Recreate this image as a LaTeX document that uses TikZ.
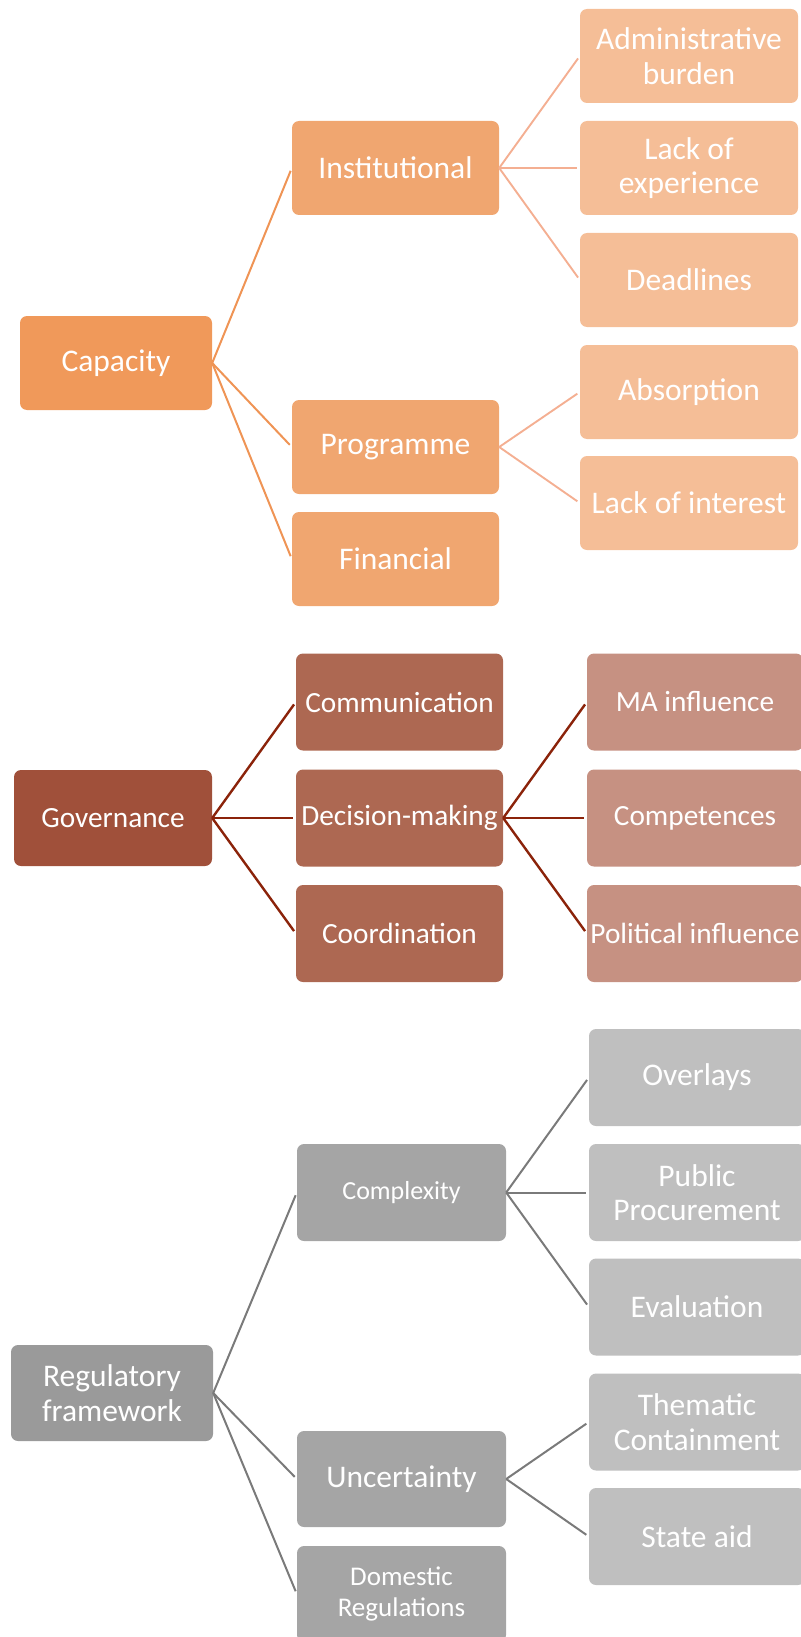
\documentclass[tikz,border=0pt]{standalone}
\usepackage{fontspec}
\setmainfont{Carlito}
\definecolor{capA}{HTML}{F0995A}
\definecolor{capB}{HTML}{F0A670}
\definecolor{capC}{HTML}{F5BE97}
\definecolor{capL}{HTML}{EF9455}
\definecolor{capLL}{HTML}{F4AF92}
\definecolor{govA}{HTML}{A0503A}
\definecolor{govB}{HTML}{AD6852}
\definecolor{govC}{HTML}{C69182}
\definecolor{govL}{HTML}{8B230A}
\definecolor{regA}{HTML}{9A9A9A}
\definecolor{regB}{HTML}{A5A5A5}
\definecolor{regC}{HTML}{BFBFBF}
\definecolor{regL}{HTML}{7A7A7A}
\tikzset{
  box/.style={rounded corners=7pt, text=white, align=center, inner sep=0pt,
    font=\fontsize{31.5}{34.6}\selectfont},
  govfont/.style={font=\fontsize{29.3}{32.2}\selectfont},
  lvlA/.style={box, minimum width=192pt, minimum height=94pt},
  lvlB/.style={box, minimum width=207pt, minimum height=94pt},
  lvlC/.style={box, minimum width=218pt, minimum height=94pt},
  link/.style={shorten >=3pt},
}
\begin{document}
\begin{tikzpicture}[x=1pt,y=-1pt]
\useasboundingbox (0,0) rectangle (800,1637);

% ---- Capacity ----
\node[lvlA, fill=capA] (cap) at (116,363) {Capacity};
\node[lvlB, fill=capB] (inst) at (395.5,168) {Institutional};
\node[lvlB, fill=capB] (prog) at (395.5,447) {Programme};
\node[lvlB, fill=capB] (fin) at (395.5,559) {Financial};
\node[lvlC, fill=capC] (adm) at (689,56) {Administrative\\burden};
\node[lvlC, fill=capC] (loe) at (689,168) {Lack of\\experience};
\node[lvlC, fill=capC] (dead) at (689,280) {Deadlines};
\node[lvlC, fill=capC] (abs) at (689,392) {Absorption};
\node[lvlC, fill=capC] (loi) at (689,503) {Lack of interest};

\begin{scope}[capL, line width=2pt]
  \draw[link] (cap.east) -- (inst.west);
  \draw[link] (cap.east) -- (prog.west);
  \draw[link] (cap.east) -- (fin.west);
\end{scope}
\begin{scope}[capLL, line width=1.9pt]
  \draw[link] (inst.east) -- (adm.west);
  \draw[link] (inst.east) -- (loe.west);
  \draw[link] (inst.east) -- (dead.west);
  \draw[link] (prog.east) -- (abs.west);
  \draw[link] (prog.east) -- (loi.west);
\end{scope}

% ---- Governance ----
\node[box, govfont, minimum width=198pt, minimum height=96pt, fill=govA] (gov) at (113,818) {Governance};
\node[box, govfont, minimum width=207pt, minimum height=97pt, fill=govB] (com) at (399.5,702) {Communication};
\node[box, govfont, minimum width=207pt, minimum height=97pt, fill=govB] (dec) at (399.5,818) {Decision-making};
\node[box, govfont, minimum width=207pt, minimum height=97pt, fill=govB] (coo) at (399.5,933.5) {Coordination};
\node[box, govfont, minimum width=216pt, minimum height=97pt, fill=govC] (ma) at (695,702) {MA influence};
\node[box, govfont, minimum width=216pt, minimum height=97pt, fill=govC] (cmp) at (695,818) {Competences};
\node[box, govfont, minimum width=216pt, minimum height=97pt, fill=govC] (pol) at (695,933.5) {Political influence};

\begin{scope}[govL, line width=2.4pt]
  \draw[link] (gov.east) -- (com.west);
  \draw[link] (gov.east) -- (dec.west);
  \draw[link] (gov.east) -- (coo.west);
  \draw[link] (dec.east) -- (ma.west);
  \draw[link] (dec.east) -- (cmp.west);
  \draw[link] (dec.east) -- (pol.west);
\end{scope}

% ---- Regulatory framework ----
\node[box, minimum width=202pt, minimum height=96pt, fill=regA] (reg) at (112,1393) {Regulatory\\framework};
\node[box, minimum width=209pt, minimum height=97pt, fill=regB, font=\fontsize{26}{29}\selectfont] (cpx) at (401.5,1192.5) {Complexity};
\node[box, minimum width=209pt, minimum height=96pt, fill=regB] (unc) at (401.5,1479) {Uncertainty};
\node[box, minimum width=209pt, minimum height=96pt, fill=regB, font=\fontsize{27}{30.5}\selectfont] (dom) at (401.5,1594) {Domestic\\Regulations};
\node[box, minimum width=216pt, minimum height=97pt, fill=regC] (ovl) at (697,1077.5) {Overlays};
\node[box, minimum width=216pt, minimum height=97pt, fill=regC] (pp) at (697,1192.5) {Public\\Procurement};
\node[box, minimum width=216pt, minimum height=97pt, fill=regC] (eva) at (697,1307) {Evaluation};
\node[box, minimum width=216pt, minimum height=97pt, fill=regC] (tc) at (697,1422) {Thematic\\Containment};
\node[box, minimum width=216pt, minimum height=97pt, fill=regC] (sa) at (697,1536.5) {State aid};

\begin{scope}[regL, line width=2pt]
  \draw[link] (reg.east) -- (cpx.west);
  \draw[link] (reg.east) -- (unc.west);
  \draw[link] (reg.east) -- (dom.west);
  \draw[link] (cpx.east) -- (ovl.west);
  \draw[link] (cpx.east) -- (pp.west);
  \draw[link] (cpx.east) -- (eva.west);
  \draw[link] (unc.east) -- (tc.west);
  \draw[link] (unc.east) -- (sa.west);
\end{scope}
\end{tikzpicture}
\end{document}
